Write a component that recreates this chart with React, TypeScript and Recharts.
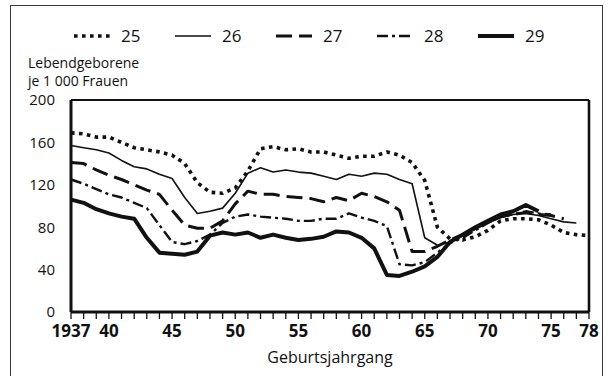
import { Legend, Line, LineChart, ReferenceLine, XAxis, YAxis } from "recharts";

// Geburtsjahrgänge 1937–1978
const years = [
  1937, 1938, 1939, 1940, 1941, 1942, 1943, 1944, 1945, 1946, 1947, 1948, 1949, 1950,
  1951, 1952, 1953, 1954, 1955, 1956, 1957, 1958, 1959, 1960, 1961, 1962, 1963, 1964,
  1965, 1966, 1967, 1968, 1969, 1970, 1971, 1972, 1973, 1974, 1975, 1976, 1977, 1978,
];
const xLabels = [1937, 1940, 1945, 1950, 1955, 1960, 1965, 1970, 1975, 1978];
const yTicks = [0, 40, 80, 120, 160, 200];
const innerTicks = [40, 80, 120, 160];
const yTitle = ["Lebendgeborene", "je 1 000 Frauen"];

// Lebendgeborene je 1 000 Frauen im Alter von 25 ... 29 Jahren
const age25 = [
  169, 168, 165, 165, 160, 155, 153, 151, 148, 140,
  122, 113, 112, 117, 133, 154, 156, 153, 154, 151,
  151, 148, 145, 147, 147, 151, 148, 141, 124, 80,
  69, 68, 71, 77, 86, 88, 88, 87, 82, 75,
  73, 72,
];
const age26 = [
  157, 155, 153, 150, 143, 137, 135, 130, 126, 108,
  93, 95, 98, 112, 131, 136, 132, 134, 132, 131,
  128, 125, 130, 128, 131, 130, 125, 121, 70, 63,
  66, 72, 78, 84, 89, 92, 93, 91, 88, 85,
  84, null,
];
const age27 = [
  141, 140, 134, 129, 125, 120, 115, 111, 96, 82,
  79, 79, 86, 102, 114, 111, 111, 109, 108, 107,
  104, 108, 105, 112, 109, 104, 96, 57, 57, 62,
  68, 73, 79, 85, 90, 92, 94, 92, 91, 88,
  null, null,
];
const age28 = [
  125, 121, 116, 111, 108, 103, 98, 82, 66, 64,
  67, 73, 84, 90, 92, 90, 89, 88, 86, 86,
  88, 88, 93, 89, 86, 81, 45, 44, 47, 56,
  65, 70, 77, 84, 90, 92, 95, 93, 92, null,
  null, null,
];
const age29 = [
  106, 103, 97, 93, 90, 88, 70, 56, 55, 54,
  57, 72, 75, 73, 75, 70, 73, 70, 68, 69,
  71, 76, 75, 70, 60, 35, 34, 38, 43, 52,
  66, 73, 80, 86, 92, 95, 101, 95, null, null,
  null, null,
];

const rows = years.map((year, i) => ({
  year,
  a25: age25[i],
  a26: age26[i],
  a27: age27[i],
  a28: age28[i],
  a29: age29[i],
}));

const INK = "#111";
const FONT = "'Open Sans', sans-serif";

const series = [
  { key: "a25", name: "25", width: 3.6, dash: "3.6 4.4" },
  { key: "a26", name: "26", width: 1.6, dash: undefined },
  { key: "a27", name: "27", width: 3, dash: "16 7" },
  { key: "a28", name: "28", width: 2.4, dash: "11 4 3 4" },
  { key: "a29", name: "29", width: 4, dash: undefined },
];

function LegendRow() {
  return (
    <svg width={608} height={24} style={{ display: "block" }}>
      {series.map((s, i) => (
        <g key={s.key} transform={`translate(${74 + i * 101}, 12)`}>
          <line x1={0} x2={36} y1={0} y2={0} stroke={INK} strokeWidth={s.width} strokeDasharray={s.dash} />
          <text x={47} y={6} fontSize={17} fontFamily={FONT} fill={INK}>
            {s.name}
          </text>
        </g>
      ))}
    </svg>
  );
}

function yearLabel(v: number) {
  if (!xLabels.includes(v)) return "";
  return v === 1937 ? "1937" : String(v % 100);
}

export default function App() {
  return (
    <div style={{ position: "absolute", left: 0, top: 0, width: 608, height: 376, background: "#fff" }}>
      <div
        style={{
          position: "absolute",
          left: 10,
          top: 5,
          width: 593,
          height: 380,
          border: "1.6px solid #3a3a3a",
          boxSizing: "border-box",
        }}
      />
      {yTitle.map((line, i) => (
        <div
          key={line}
          style={{
            position: "absolute",
            left: 28,
            top: 55 + i * 18,
            fontFamily: FONT,
            fontSize: 14,
            lineHeight: "16px",
            color: INK,
            zIndex: 2,
            whiteSpace: "nowrap",
          }}
        >
          {line}
        </div>
      ))}
      <LineChart width={608} height={376} data={rows} margin={{ top: 100, right: 19, bottom: 0, left: 11 }}>
        <XAxis
          dataKey="year"
          type="number"
          domain={[1937, 1978]}
          ticks={years}
          interval={0}
          tickFormatter={yearLabel}
          height={64}
          tickSize={7}
          tickMargin={6}
          axisLine={{ stroke: INK, strokeWidth: 3 }}
          tickLine={{ stroke: INK, strokeWidth: 1.3 }}
          tick={{ fill: INK, fontSize: 17, fontWeight: 700, fontFamily: FONT }}
          label={{
            value: "Geburtsjahrgang",
            position: "insideBottom",
            offset: 13,
            fill: INK,
            fontSize: 16,
            fontFamily: FONT,
          }}
        />
        <YAxis
          yAxisId="l"
          type="number"
          domain={[0, 200]}
          ticks={yTicks}
          interval={0}
          width={60}
          tickSize={0}
          tickMargin={16}
          axisLine={{ stroke: INK, strokeWidth: 3 }}
          tickLine={false}
          tick={{ fill: INK, fontSize: 15, fontFamily: FONT }}
        />
        <YAxis
          yAxisId="lm"
          type="number"
          orientation="left"
          mirror
          domain={[0, 200]}
          ticks={innerTicks}
          interval={0}
          tickSize={15}
          axisLine={false}
          tickLine={{ stroke: INK, strokeWidth: 1.4 }}
          tick={false}
        />
        <YAxis
          yAxisId="r"
          type="number"
          orientation="right"
          mirror
          domain={[0, 200]}
          ticks={innerTicks}
          interval={0}
          tickSize={15}
          axisLine={{ stroke: INK, strokeWidth: 2.6 }}
          tickLine={{ stroke: INK, strokeWidth: 1.4 }}
          tick={false}
        />
        <ReferenceLine yAxisId="l" y={200} stroke={INK} strokeWidth={2} />
        <Legend
          verticalAlign="middle"
          align="center"
          layout="horizontal"
          wrapperStyle={{ top: 24, left: 0, width: 608 }}
          content={() => <LegendRow />}
        />
        {series.map((s) => (
          <Line
            key={s.key}
            yAxisId="l"
            type="linear"
            dataKey={s.key}
            name={s.name}
            stroke={INK}
            strokeWidth={s.width}
            strokeDasharray={s.dash}
            strokeLinejoin="round"
            dot={false}
            activeDot={false}
            isAnimationActive={false}
          />
        ))}
      </LineChart>
    </div>
  );
}
